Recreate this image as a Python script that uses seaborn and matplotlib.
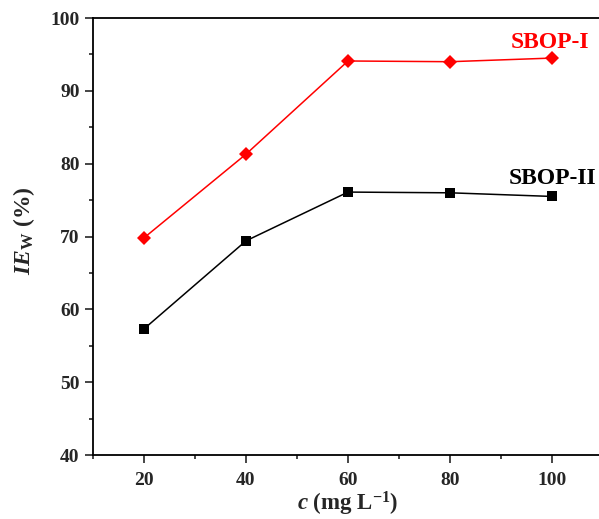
import pandas as pd
import matplotlib
matplotlib.use("Agg")
import matplotlib.pyplot as plt
import seaborn as sns
from matplotlib.ticker import MultipleLocator

# data
conc = [20, 40, 60, 80, 100]
sbop1 = [69.8, 81.3, 94.1, 94.0, 94.5]
sbop2 = [57.3, 69.4, 76.1, 76.0, 75.5]

df = pd.DataFrame({
    "c": conc * 2,
    "IE": sbop1 + sbop2,
    "inhibitor": ["SBOP-I"] * len(conc) + ["SBOP-II"] * len(conc),
})

sns.set_style("ticks")
plt.rcParams["font.family"] = ["Liberation Serif", "DejaVu Serif"]
plt.rcParams["font.weight"] = "bold"
plt.rcParams["mathtext.fontset"] = "custom"
plt.rcParams["mathtext.rm"] = "Liberation Serif:bold"
plt.rcParams["mathtext.it"] = "Liberation Serif:italic:bold"
plt.rcParams["mathtext.bf"] = "Liberation Serif:bold"

fig = plt.figure(figsize=(5.99, 5.19), dpi=100)
ax = fig.add_axes([0.155, 0.1233, 0.852, 0.842])

palette = {"SBOP-I": "red", "SBOP-II": "black"}
markers = {"SBOP-I": "D", "SBOP-II": "s"}
sns.lineplot(data=df, x="c", y="IE", hue="inhibitor", style="inhibitor",
             palette=palette, markers=markers, dashes=False,
             markersize=7, markeredgewidth=0, linewidth=1.1,
             legend=False, ax=ax)

ax.set_xlim(10, 110)
ax.set_ylim(40, 100)
ax.xaxis.set_major_locator(MultipleLocator(20))
ax.xaxis.set_minor_locator(MultipleLocator(10))
ax.yaxis.set_major_locator(MultipleLocator(10))
ax.yaxis.set_minor_locator(MultipleLocator(5))
ax.tick_params(which="major", direction="out", length=6, width=1.2, labelsize=14)
ax.tick_params(axis="x", which="major", pad=6)
ax.tick_params(which="minor", direction="out", length=3, width=1.2)
ax.tick_params(top=False, right=False, which="both")
for s in ax.spines.values():
    s.set_linewidth(1.3)
    s.set_color("black")
ax.spines["right"].set_visible(False)

ax.set_xlabel(r"$c$ (mg L$^{\mathrm{-1}}$)", fontsize=16.5, fontweight="bold", labelpad=1)
ax.set_ylabel(r"$IE_{\mathrm{W}}$ (%)", fontsize=17, fontweight="bold")
ax.yaxis.set_label_coords(-0.11, 0.513)

ax.text(99.6, 96.6, "SBOP-I", color="red", fontsize=17, fontweight="bold", ha="center", va="center")
ax.text(100, 78.0, "SBOP-II", color="black", fontsize=17, fontweight="bold", ha="center", va="center")

fig.savefig("out.png", dpi=100)
